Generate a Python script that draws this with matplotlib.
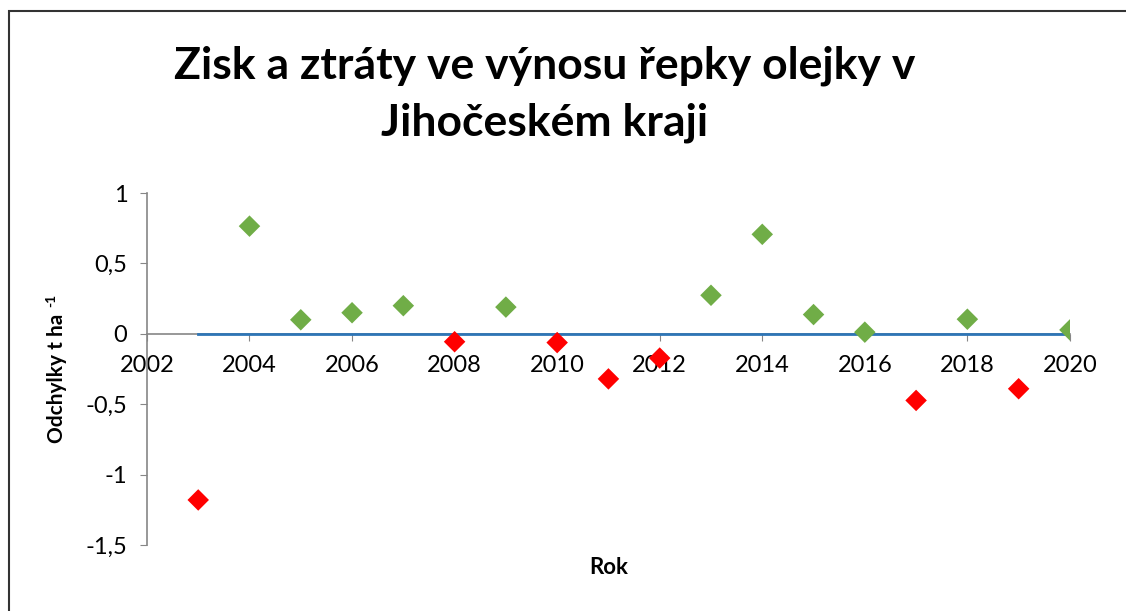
import matplotlib.pyplot as plt
from matplotlib.patches import Rectangle

# Odchylky výnosu řepky (t/ha) podle roku
roky = [2003, 2004, 2005, 2006, 2007, 2008, 2009, 2010, 2011,
        2012, 2013, 2014, 2015, 2016, 2017, 2018, 2019, 2020]
odchylky = [-1.18, 0.765, 0.10, 0.15, 0.20, -0.056, 0.19, -0.062, -0.32,
            -0.172, 0.274, 0.707, 0.137, 0.012, -0.473, 0.104, -0.39, 0.028]
x_ticks = [2002, 2004, 2006, 2008, 2010, 2012, 2014, 2016, 2018, 2020]
y_ticks = [-1.5, -1, -0.5, 0, 0.5, 1]
y_labels = ['-1,5', '-1', '-0,5', '0', '0,5', '1']

zisk = [(r, v) for r, v in zip(roky, odchylky) if v >= 0]
ztrata = [(r, v) for r, v in zip(roky, odchylky) if v < 0]

plt.rcParams['font.family'] = ['Lato', 'DejaVu Sans']

fig = plt.figure(figsize=(11.26, 6.11), dpi=100)
ax = fig.add_axes([0.1305, 0.108, 0.8197, 0.576])

# nulová linie
ax.plot([roky[0], roky[-1]], [0, 0], color='#2E75B6', lw=2, zorder=2)

ax.scatter([p[0] for p in zisk], [p[1] for p in zisk], marker='D', s=120,
           color='#70AD47', edgecolors='none', zorder=3)
ax.scatter([p[0] for p in ztrata], [p[1] for p in ztrata], marker='D', s=120,
           color='#FF0000', edgecolors='none', zorder=3)

ax.set_xlim(2002, 2020)
ax.set_ylim(-1.5, 1)
ax.set_xticks(x_ticks)
ax.set_yticks(y_ticks)
ax.set_yticklabels(y_labels)

for s in ['top', 'right']:
    ax.spines[s].set_visible(False)
ax.spines['bottom'].set_position(('data', 0))
ax.spines['bottom'].set_color('#868686')
ax.spines['left'].set_color('#868686')
ax.spines['bottom'].set_linewidth(1.2)
ax.spines['left'].set_linewidth(1.2)
ax.spines['bottom'].set_zorder(1)

ax.tick_params(axis='x', direction='out', length=5, color='#868686',
               labelsize=17, pad=10)
ax.tick_params(axis='y', direction='out', length=5, color='#868686',
               labelsize=17, pad=9)

fig.text(0.484, 0.845, 'Zisk a ztráty ve výnosu řepky olejky v\nJihočeském kraji',
         ha='center', va='center', fontsize=32, fontweight='bold',
         linespacing=1.5)
fig.text(57 / 1126, 1 - 378 / 611, 'Odchylky t ha', rotation=90,
         ha='center', va='center', fontsize=15, fontweight='bold')
fig.text(51 / 1126, 1 - 300 / 611, '-1', rotation=90,
         ha='center', va='center', fontsize=10, fontweight='bold')
fig.text(0.541, 1 - 567 / 611, 'Rok', ha='center', va='center', fontsize=16,
         fontweight='bold')

# rámeček grafu
fig.add_artist(Rectangle((9 / 1126, -0.1), 1.2, (611 - 11) / 611 + 0.1,
                         transform=fig.transFigure, fill=False,
                         edgecolor='#333333', lw=1.5))

fig.savefig('out.png', dpi=100)
